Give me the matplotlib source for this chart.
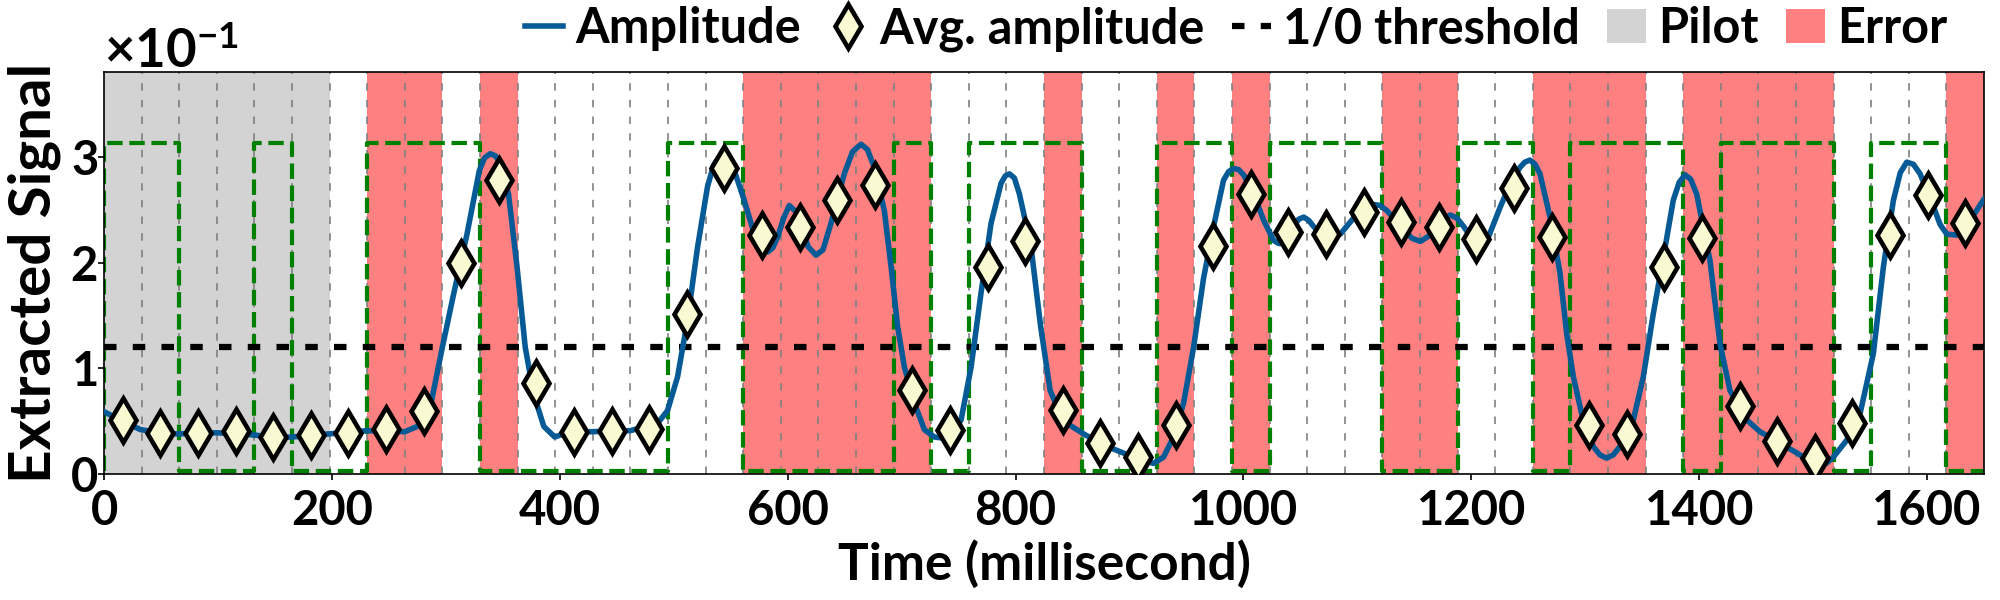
import matplotlib
matplotlib.use("Agg")
import matplotlib.pyplot as plt
from matplotlib.lines import Line2D
from matplotlib.patches import Patch
from matplotlib.ticker import ScalarFormatter, MultipleLocator
import numpy as np

# ---------------- data (values in units of 1e-1) ----------------
BIT_MS = 33
N_PILOT = 6
THRESHOLD = 1.2
SCALE = 1e-1
SENT_HIGH = 3.13
SENT_LOW = 0.03

sent_bits = [1, 1, 0, 0, 1, 0,
             0, 1, 1, 1, 0, 0, 0, 0, 0, 1, 1, 0, 0, 0,
             0, 1, 0, 1, 1, 1, 0, 0, 1, 1, 0, 1, 1, 1,
             0, 0, 1, 1, 0, 1, 1, 1, 0, 1, 1, 1, 0, 1, 1, 0]

avg_amp = [0.51, 0.39, 0.39, 0.41, 0.35, 0.37, 0.39, 0.43, 0.60, 2.00,
           2.78, 0.86, 0.40, 0.41, 0.43, 1.51, 2.89, 2.26, 2.34, 2.59,
           2.73, 0.79, 0.42, 1.96, 2.20, 0.61, 0.29, 0.16, 0.46, 2.16,
           2.65, 2.29, 2.27, 2.48, 2.38, 2.34, 2.22, 2.71, 2.24, 0.46,
           0.38, 1.96, 2.23, 0.64, 0.31, 0.15, 0.48, 2.26, 2.64, 2.37]

curve_t = [0, 16, 32, 55, 66, 99, 132, 149, 165, 198, 231, 264, 275, 286.5,
           296.4, 307, 318.6, 329.4, 334, 339, 343.5, 347.8, 355, 362.5,
           369.7, 377, 386, 395.6, 409, 426.9, 462, 485.9, 494.6, 503.4,
           512.2, 521, 529.7, 535, 540, 544.4, 549, 553.2, 561.9, 570.7,
           576.5, 582.4, 587, 591.2, 596.5, 601.4, 606.5, 611.7, 618, 624.8,
           631, 638, 649.7, 657, 664.4, 670, 676.1, 684.9, 690.8, 696.6,
           702.5, 711.3, 720, 728.8, 736, 743.4, 752.2, 761, 769.7, 778.5,
           787.3, 791, 794.6, 799, 803.4, 813.6, 822, 830.4, 839.2, 848,
           859.7, 874.3, 891.9, 906.5, 914, 921.1, 929.9, 938.7, 947.5, 956.3,
           965, 974, 982.6, 987, 991.4, 995.8, 1000.2, 1009, 1017.8, 1026.5,
           1031, 1035.3, 1044.1, 1048.5, 1052.9, 1057.3, 1061.7, 1073.4,
           1085.1, 1099.7, 1107, 1114.3, 1120, 1126.1, 1140.7, 1148, 1155.3,
           1162.5, 1170, 1176, 1181.7, 1187.5, 1193.4, 1202.2, 1208, 1213.9,
           1225.6, 1234.4, 1242.7, 1247, 1251.5, 1256, 1260.3, 1269.1, 1277.9,
           1283.7, 1289.6, 1296.9, 1307.1, 1313, 1318.8, 1324.5, 1330.5,
           1342.2, 1351, 1359.8, 1368.6, 1377.3, 1382.5, 1387.6, 1392.5,
           1397.8, 1409.5, 1418.3, 1427.1, 1438.8, 1453.4, 1468.1, 1485.6,
           1496, 1506.1, 1511.5, 1517.8, 1529.5, 1541.2, 1552.9, 1561.7,
           1570.5, 1576.5, 1582.2, 1588, 1593.9, 1605.6, 1611.5, 1617.3,
           1626.1, 1637.8, 1650]
curve_v = [0.59, 0.50, 0.42, 0.38, 0.38, 0.39, 0.37, 0.34, 0.35, 0.38, 0.41,
           0.40, 0.45, 0.64, 1.17, 1.71, 2.27, 2.87, 2.99, 3.03, 3.01, 2.94,
           2.65, 1.96, 1.20, 0.76, 0.45, 0.35, 0.40, 0.40, 0.41, 0.48, 0.60,
           0.92, 1.46, 2.15, 2.72, 2.92, 3.00, 3.01, 2.96, 2.87, 2.59, 2.27,
           2.14, 2.10, 2.14, 2.24, 2.42, 2.54, 2.49, 2.34, 2.15, 2.07, 2.12,
           2.37, 2.84, 3.05, 3.12, 3.07, 2.90, 2.49, 1.96, 1.39, 1.01, 0.67,
           0.42, 0.35, 0.34, 0.36, 0.51, 1.01, 1.71, 2.37, 2.75, 2.82, 2.84,
           2.80, 2.65, 2.15, 1.40, 0.79, 0.57, 0.46, 0.38, 0.29, 0.21, 0.15,
           0.12, 0.10, 0.16, 0.35, 0.67, 1.20, 1.85, 2.35, 2.78, 2.86, 2.89,
           2.88, 2.83, 2.65, 2.40, 2.21, 2.18, 2.18, 2.34, 2.41, 2.43, 2.40,
           2.34, 2.21, 2.27, 2.46, 2.52, 2.55, 2.54, 2.49, 2.31, 2.23, 2.20,
           2.25, 2.35, 2.42, 2.45, 2.42, 2.34, 2.20, 2.18, 2.21, 2.53, 2.75,
           2.90, 2.95, 2.97, 2.93, 2.84, 2.43, 1.90, 1.33, 0.92, 0.57, 0.26,
           0.18, 0.15, 0.18, 0.26, 0.51, 0.92, 1.52, 2.05, 2.59, 2.76, 2.83,
           2.79, 2.65, 2.02, 1.23, 0.79, 0.54, 0.40, 0.31, 0.20, 0.13, 0.09,
           0.10, 0.16, 0.32, 0.57, 1.14, 1.96, 2.59, 2.85, 2.95, 2.93, 2.84,
           2.53, 2.36, 2.27, 2.26, 2.40, 2.60]

x_ticks = [0, 200, 400, 600, 800, 1000, 1200, 1400, 1600]

# ---------------- style ----------------
plt.rcParams['font.family'] = ['Lato', 'DejaVu Sans']
plt.rcParams['font.weight'] = 'bold'
plt.rcParams['mathtext.fontset'] = 'custom'
plt.rcParams['mathtext.rm'] = 'Lato:bold'
plt.rcParams['mathtext.it'] = 'Lato:italic:bold'
plt.rcParams['mathtext.bf'] = 'Lato:bold'

BLUE = '#065a96'
RED = '#ff8080'
GRAY = '#d3d3d3'
GREEN = '#008000'
FACE = '#fafad2'

fig = plt.figure(figsize=(20, 6), dpi=100)
ax = fig.add_axes([0.052, 0.21, 0.94, 0.6695])

n_bits = len(sent_bits)
xmax = n_bits * BIT_MS

# pilot region
ax.axvspan(0, N_PILOT * BIT_MS, color=GRAY, lw=0, zorder=0)
# error regions
for k in range(N_PILOT, n_bits):
    decoded = 1 if avg_amp[k] > THRESHOLD else 0
    if decoded != sent_bits[k]:
        ax.axvspan(k * BIT_MS, (k + 1) * BIT_MS, color=RED, lw=0, zorder=0)

# bit boundaries
for k in range(1, n_bits):
    ax.axvline(k * BIT_MS, color='gray', lw=1.2, ls=(0, (4.5, 5.5)), zorder=1)

# sent signal (green step)
edges = [0] + [k * BIT_MS for k in range(n_bits)] + [xmax]
levels = [SENT_LOW] + [SENT_HIGH if b else SENT_LOW for b in sent_bits] + [SENT_LOW]
ax.step(np.array(edges), np.array(levels) * SCALE, where='post', color=GREEN,
        lw=3.0, ls='--', zorder=2)

# threshold
ax.axhline(THRESHOLD * SCALE, color='black', lw=4.5, ls=(0, (2, 2.6)), zorder=3)

# amplitude curve
ax.plot(np.array(curve_t), np.array(curve_v) * SCALE, color=BLUE, lw=4.0,
        zorder=4, solid_joinstyle='round')

# avg amplitude markers
centers = [(k + 0.5) * BIT_MS for k in range(n_bits)]
ax.plot(centers, np.array(avg_amp) * SCALE, ls='none', marker='d', ms=22,
        mfc=FACE, mec='black', mew=3.3, zorder=5)

ax.set_xlim(0, 1650)
ax.set_ylim(0, 3.8 * SCALE)
ax.set_xticks(x_ticks)
ax.yaxis.set_major_locator(MultipleLocator(1 * SCALE))
fmt = ScalarFormatter(useMathText=True)
fmt.set_powerlimits((0, 0))
ax.yaxis.set_major_formatter(fmt)
ax.yaxis.get_offset_text().set_fontsize(38)
ax.yaxis.get_offset_text().set_fontweight('bold')

ax.tick_params(axis='both', labelsize=34, length=4, width=1.2)
ax.tick_params(axis='x', pad=7)
ax.tick_params(axis='y', pad=0.5)
for s in ax.spines.values():
    s.set_linewidth(1.2)

ax.set_xlabel('Time (millisecond)', fontsize=37, fontweight='bold', labelpad=5)
ax.set_ylabel('Extracted Signal', fontsize=42, fontweight='bold', labelpad=6)

handles = [
    Line2D([], [], color=BLUE, lw=4.0),
    Line2D([], [], ls='none', marker='d', ms=22, mfc=FACE, mec='black', mew=3.3),
    Line2D([], [], color='black', lw=4.5, ls=(0, (2, 2.6))),
    Patch(facecolor=GRAY, edgecolor='none'),
    Patch(facecolor=RED, edgecolor='none'),
]
labels = ['Amplitude', 'Avg. amplitude', '1/0 threshold', 'Pilot', 'Error']
fig.legend(handles, labels, loc='center right', bbox_to_anchor=(0.9735, 0.952),
           ncol=5, frameon=False, fontsize=35, handlelength=0.8,
           handletextpad=0.25, columnspacing=0.56, borderpad=0, borderaxespad=0)

fig.savefig('out.png', dpi=100)
